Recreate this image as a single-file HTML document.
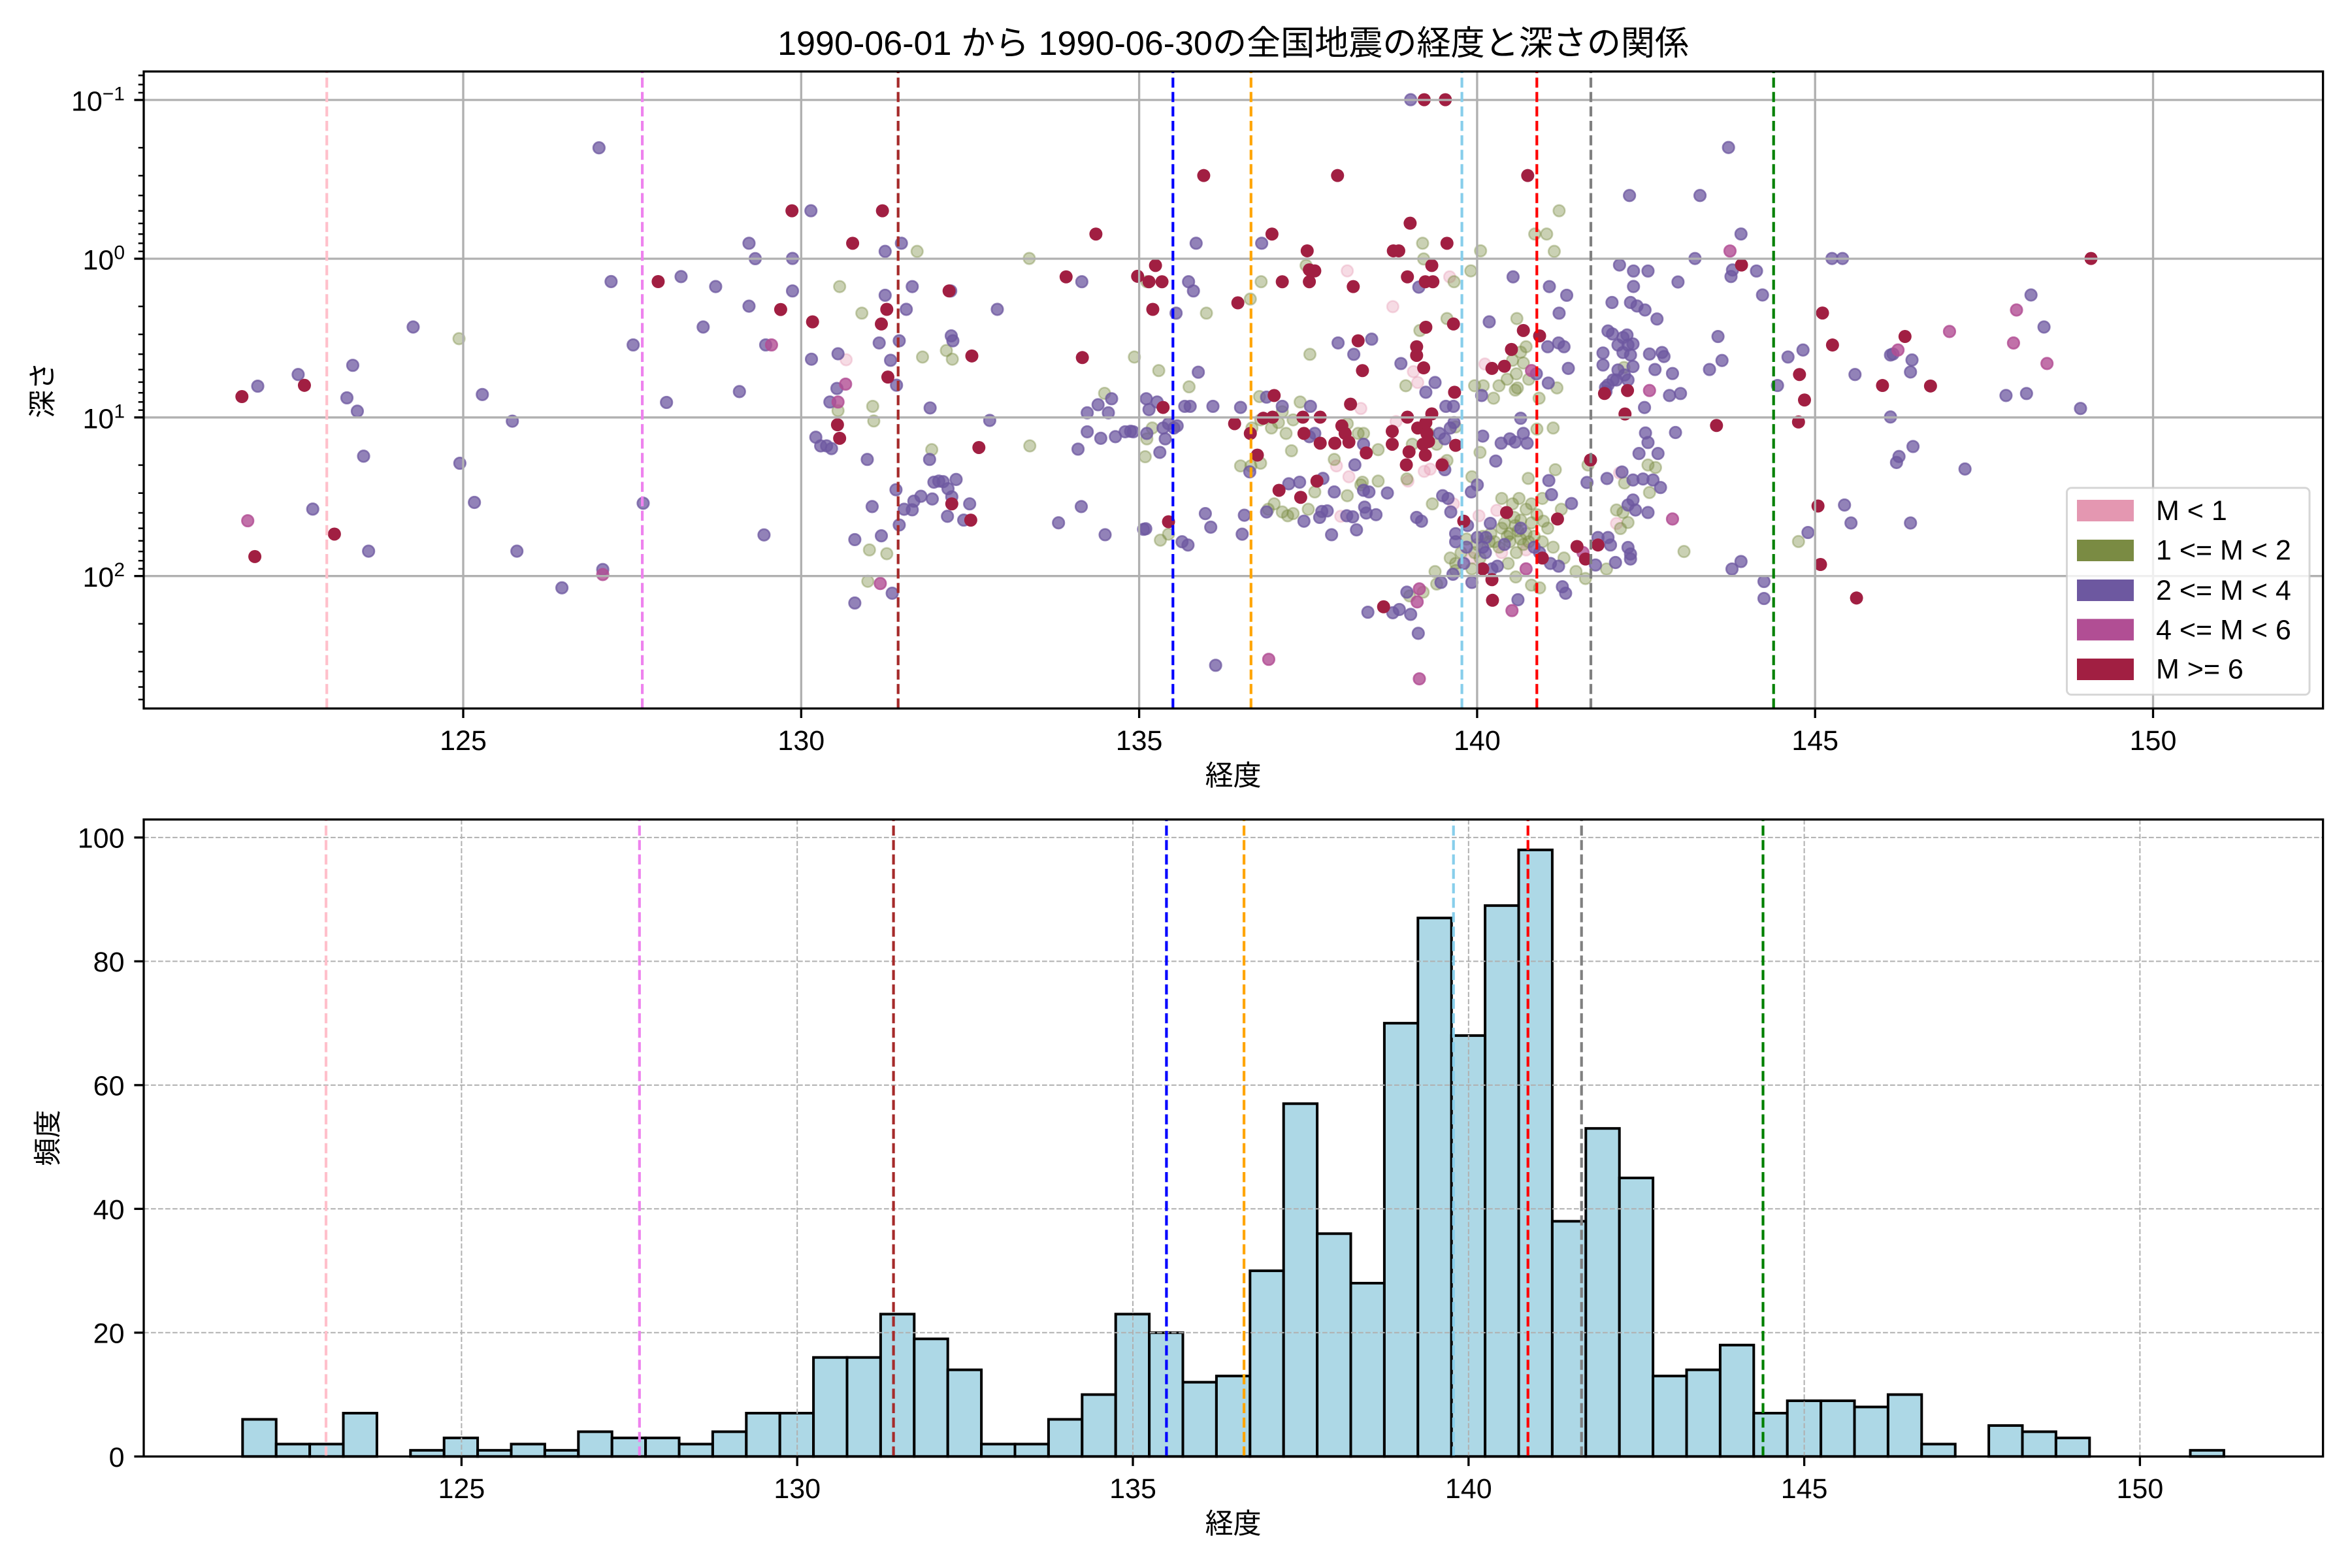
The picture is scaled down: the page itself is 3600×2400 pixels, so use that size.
<!DOCTYPE html>
<html><head><meta charset="utf-8">
<style>
html,body{margin:0;padding:0;background:#fff;}
svg{display:block;}
text{font-family:"Liberation Sans","Noto Sans CJK JP",sans-serif;fill:#000;}
.K{fill:#e497b1;fill-opacity:.35;stroke:#e497b1;stroke-opacity:.35}
.O{fill:#7a8b43;fill-opacity:.4;stroke:#7a8b43;stroke-opacity:.4}
.P{fill:#6d58a0;fill-opacity:.75;stroke:#6d58a0;stroke-opacity:.75}
.M{fill:#b14e94;fill-opacity:.8;stroke:#b14e94;stroke-opacity:.8}
.R{fill:#a11f42}
</style></head>
<body>
<svg width="3600" height="2400" viewBox="0 0 3600 2400" xmlns="http://www.w3.org/2000/svg">
<defs>
<clipPath id="c1"><rect x="220" y="109.4" width="3335.6" height="975"/></clipPath>
</defs>
<rect width="3600" height="2400" fill="#fff"/>

<text x="1887.6" y="84" font-size="52" text-anchor="middle" textLength="1395" lengthAdjust="spacingAndGlyphs">1990-06-01 から 1990-06-30の全国地震の経度と深さの関係</text>

<g clip-path="url(#c1)">
<g transform="translate(1150,0) scale(0.82925)" class="K" stroke-width="3.14">
<circle cx="175" cy="664" r="10.6"/><circle cx="1100" cy="500" r="10.6"/><circle cx="1289" cy="511" r="10.6"/><circle cx="1184" cy="566" r="10.6"/><circle cx="1222" cy="686" r="10.6"/><circle cx="1230" cy="706" r="10.6"/><circle cx="1354" cy="672" r="10.6"/><circle cx="1125" cy="754" r="10.6"/><circle cx="1190" cy="778" r="10.6"/><circle cx="1080" cy="860" r="10.6"/><circle cx="1103" cy="880" r="10.6"/><circle cx="1212" cy="888" r="10.6"/><circle cx="1242" cy="870" r="10.6"/><circle cx="1253" cy="866" r="10.6"/><circle cx="1277" cy="855" r="10.6"/><circle cx="1296" cy="930" r="10.6"/><circle cx="1088" cy="953" r="10.6"/><circle cx="1343" cy="952" r="10.6"/><circle cx="1376" cy="942" r="10.6"/><circle cx="1330" cy="1030" r="10.6"/><circle cx="1385" cy="1020" r="10.6"/><circle cx="1430" cy="1015" r="10.6"/>
</g>
<g transform="translate(2400,0) scale(0.76531)" class="K" stroke-width="3.4">
<circle cx="103" cy="946" r="11.5"/><circle cx="97" cy="1047" r="11.5"/>
</g>
<g transform="translate(200,100) scale(0.63776)" class="O" stroke-width="4.1">
<circle cx="788" cy="656" r="13.8"/>
</g>
<g transform="translate(1150,0) scale(0.82925)" class="O" stroke-width="3.14">
<circle cx="1491" cy="389" r="10.6"/><circle cx="306" cy="464" r="10.6"/><circle cx="1239" cy="449" r="10.6"/><circle cx="1446" cy="432" r="10.6"/><circle cx="1468" cy="432" r="10.6"/><circle cx="1482" cy="464" r="10.6"/><circle cx="513" cy="477" r="10.6"/><circle cx="1346" cy="463" r="10.6"/><circle cx="1241" cy="478" r="10.6"/><circle cx="730" cy="520" r="10.6"/><circle cx="941" cy="520" r="10.6"/><circle cx="1024" cy="490" r="10.6"/><circle cx="1297" cy="520" r="10.6"/><circle cx="1328" cy="500" r="10.6"/><circle cx="163" cy="529" r="10.6"/><circle cx="204" cy="578" r="10.6"/><circle cx="840" cy="578" r="10.6"/><circle cx="921" cy="552" r="10.6"/><circle cx="1234" cy="610" r="10.6"/><circle cx="1284" cy="588" r="10.6"/><circle cx="1413" cy="588" r="10.6"/><circle cx="360" cy="647" r="10.6"/><circle cx="371" cy="663" r="10.6"/><circle cx="1430" cy="640" r="10.6"/><circle cx="316" cy="659" r="10.6"/><circle cx="707" cy="659" r="10.6"/><circle cx="1031" cy="654" r="10.6"/><circle cx="752" cy="684" r="10.6"/><circle cx="1208" cy="712" r="10.6"/><circle cx="1351" cy="712" r="10.6"/><circle cx="1380" cy="712" r="10.6"/><circle cx="1412" cy="690" r="10.6"/><circle cx="1414" cy="716" r="10.6"/><circle cx="1335" cy="712" r="10.6"/><circle cx="1487" cy="716" r="10.6"/><circle cx="224" cy="750" r="10.6"/><circle cx="226" cy="777" r="10.6"/><circle cx="160" cy="758" r="10.6"/><circle cx="652" cy="726" r="10.6"/><circle cx="808" cy="714" r="10.6"/><circle cx="938" cy="732" r="10.6"/><circle cx="1013" cy="742" r="10.6"/><circle cx="1370" cy="735" r="10.6"/><circle cx="1410" cy="720" r="10.6"/><circle cx="1454" cy="735" r="10.6"/><circle cx="514" cy="823" r="10.6"/><circle cx="730" cy="810" r="10.6"/><circle cx="740" cy="790" r="10.6"/><circle cx="727" cy="843" r="10.6"/><circle cx="924" cy="790" r="10.6"/><circle cx="940" cy="775" r="10.6"/><circle cx="987" cy="800" r="10.6"/><circle cx="973" cy="780" r="10.6"/><circle cx="1100" cy="782" r="10.6"/><circle cx="1130" cy="800" r="10.6"/><circle cx="1157" cy="830" r="10.6"/><circle cx="1220" cy="820" r="10.6"/><circle cx="1265" cy="820" r="10.6"/><circle cx="1284" cy="850" r="10.6"/><circle cx="1300" cy="788" r="10.6"/><circle cx="1345" cy="835" r="10.6"/><circle cx="1450" cy="792" r="10.6"/><circle cx="1480" cy="790" r="10.6"/><circle cx="333" cy="830" r="10.6"/><circle cx="922" cy="860" r="10.6"/><circle cx="903" cy="860" r="10.6"/><circle cx="940" cy="855" r="10.6"/><circle cx="997" cy="832" r="10.6"/><circle cx="1076" cy="848" r="10.6"/><circle cx="1128" cy="890" r="10.6"/><circle cx="1157" cy="888" r="10.6"/><circle cx="1210" cy="884" r="10.6"/><circle cx="1330" cy="880" r="10.6"/><circle cx="1434" cy="883" r="10.6"/><circle cx="1484" cy="867" r="10.6"/><circle cx="1040" cy="908" r="10.6"/><circle cx="1100" cy="915" r="10.6"/><circle cx="1125" cy="895" r="10.6"/><circle cx="1257" cy="930" r="10.6"/><circle cx="1385" cy="920" r="10.6"/><circle cx="1405" cy="930" r="10.6"/><circle cx="1417" cy="920" r="10.6"/><circle cx="1440" cy="930" r="10.6"/><circle cx="1460" cy="920" r="10.6"/><circle cx="954" cy="940" r="10.6"/><circle cx="965" cy="930" r="10.6"/><circle cx="980" cy="945" r="10.6"/><circle cx="990" cy="952" r="10.6"/><circle cx="1000" cy="948" r="10.6"/><circle cx="1028" cy="940" r="10.6"/><circle cx="1390" cy="966" r="10.6"/><circle cx="1410" cy="970" r="10.6"/><circle cx="1420" cy="960" r="10.6"/><circle cx="1400" cy="985" r="10.6"/><circle cx="1430" cy="940" r="10.6"/><circle cx="1450" cy="950" r="10.6"/><circle cx="1462" cy="962" r="10.6"/><circle cx="1495" cy="940" r="10.6"/><circle cx="755" cy="997" r="10.6"/><circle cx="770" cy="986" r="10.6"/><circle cx="1365" cy="985" r="10.6"/><circle cx="1372" cy="1000" r="10.6"/><circle cx="1380" cy="1010" r="10.6"/><circle cx="1400" cy="1000" r="10.6"/><circle cx="1420" cy="995" r="10.6"/><circle cx="1430" cy="985" r="10.6"/><circle cx="1435" cy="1000" r="10.6"/><circle cx="1460" cy="1000" r="10.6"/><circle cx="1320" cy="995" r="10.6"/><circle cx="1335" cy="1020" r="10.6"/><circle cx="1345" cy="1030" r="10.6"/><circle cx="1362" cy="1000" r="10.6"/><circle cx="1412" cy="1020" r="10.6"/><circle cx="1397" cy="1040" r="10.6"/><circle cx="1300" cy="1040" r="10.6"/><circle cx="1290" cy="1030" r="10.6"/><circle cx="1500" cy="1030" r="10.6"/><circle cx="218" cy="1015" r="10.6"/><circle cx="250" cy="1022" r="10.6"/><circle cx="215" cy="1073" r="10.6"/><circle cx="1262" cy="1055" r="10.6"/><circle cx="1411" cy="1065" r="10.6"/><circle cx="1440" cy="1080" r="10.6"/><circle cx="1455" cy="1085" r="10.6"/><circle cx="1215" cy="1100" r="10.6"/><circle cx="1240" cy="1093" r="10.6"/><circle cx="1265" cy="1078" r="10.6"/><circle cx="1330" cy="1050" r="10.6"/><circle cx="1300" cy="1053" r="10.6"/>
<circle cx="1385" cy="975" r="10.6"/><circle cx="1395" cy="990" r="10.6"/><circle cx="1415" cy="980" r="10.6"/><circle cx="1425" cy="1005" r="10.6"/><circle cx="1445" cy="990" r="10.6"/><circle cx="1408" cy="955" r="10.6"/><circle cx="1440" cy="965" r="10.6"/><circle cx="1470" cy="975" r="10.6"/><circle cx="1480" cy="1010" r="10.6"/><circle cx="1350" cy="990" r="10.6"/><circle cx="1340" cy="1005" r="10.6"/><circle cx="1310" cy="1020" r="10.6"/><circle cx="1420" cy="650" r="10.6"/><circle cx="1425" cy="670" r="10.6"/><circle cx="1405" cy="665" r="10.6"/><circle cx="1435" cy="700" r="10.6"/><circle cx="1395" cy="700" r="10.6"/><circle cx="980" cy="760" r="10.6"/><circle cx="960" cy="790" r="10.6"/><circle cx="1000" cy="775" r="10.6"/><circle cx="1120" cy="800" r="10.6"/><circle cx="1250" cy="800" r="10.6"/>
</g>
<g transform="translate(2400,0) scale(0.76531)" class="O" stroke-width="3.4">
<circle cx="112" cy="735" r="11.5"/><circle cx="40" cy="930" r="11.5"/><circle cx="113" cy="966" r="11.5"/><circle cx="160" cy="930" r="11.5"/><circle cx="175" cy="935" r="11.5"/><circle cx="163" cy="985" r="11.5"/><circle cx="97" cy="1020" r="11.5"/><circle cx="110" cy="1025" r="11.5"/><circle cx="105" cy="1057" r="11.5"/><circle cx="120" cy="1045" r="11.5"/><circle cx="232" cy="1103" r="11.5"/><circle cx="461" cy="1083" r="11.5"/><circle cx="77" cy="1138" r="11.5"/><circle cx="16" cy="1143" r="11.5"/><circle cx="35" cy="1157" r="11.5"/>
</g>
<g transform="translate(200,100) scale(0.63776)" class="P" stroke-width="4.1">
<circle cx="1124" cy="198" r="13.8"/><circle cx="1484" cy="427" r="13.8"/><circle cx="1499" cy="464" r="13.8"/><circle cx="1153" cy="519" r="13.8"/><circle cx="1321" cy="507" r="13.8"/><circle cx="1404" cy="531" r="13.8"/><circle cx="1484" cy="578" r="13.8"/><circle cx="678" cy="628" r="13.8"/><circle cx="1374" cy="628" r="13.8"/><circle cx="1206" cy="671" r="13.8"/><circle cx="1524" cy="671" r="13.8"/><circle cx="533" cy="720" r="13.8"/><circle cx="402" cy="742" r="13.8"/><circle cx="305" cy="770" r="13.8"/><circle cx="519" cy="798" r="13.8"/><circle cx="544" cy="830" r="13.8"/><circle cx="844" cy="790" r="13.8"/><circle cx="1461" cy="783" r="13.8"/><circle cx="1286" cy="809" r="13.8"/><circle cx="916" cy="854" r="13.8"/><circle cx="559" cy="938" r="13.8"/><circle cx="790" cy="955" r="13.8"/><circle cx="825" cy="1049" r="13.8"/><circle cx="1230" cy="1051" r="13.8"/><circle cx="437" cy="1065" r="13.8"/><circle cx="571" cy="1166" r="13.8"/><circle cx="927" cy="1166" r="13.8"/><circle cx="1520" cy="1127" r="13.8"/><circle cx="1133" cy="1210" r="13.8"/><circle cx="1035" cy="1254" r="13.8"/>
</g>
<g transform="translate(1150,0) scale(0.82925)" class="P" stroke-width="3.14">
<circle cx="1217" cy="184" r="10.6"/><circle cx="110" cy="389" r="10.6"/><circle cx="277" cy="449" r="10.6"/><circle cx="247" cy="464" r="10.6"/><circle cx="821" cy="449" r="10.6"/><circle cx="942" cy="449" r="10.6"/><circle cx="76" cy="477" r="10.6"/><circle cx="610" cy="520" r="10.6"/><circle cx="807" cy="520" r="10.6"/><circle cx="816" cy="537" r="10.6"/><circle cx="1232" cy="530" r="10.6"/><circle cx="1406" cy="511" r="10.6"/><circle cx="1473" cy="529" r="10.6"/><circle cx="1505" cy="545" r="10.6"/><circle cx="76" cy="537" r="10.6"/><circle cx="247" cy="545" r="10.6"/><circle cx="297" cy="529" r="10.6"/><circle cx="368" cy="537" r="10.6"/><circle cx="286" cy="571" r="10.6"/><circle cx="454" cy="571" r="10.6"/><circle cx="784" cy="578" r="10.6"/><circle cx="1491" cy="578" r="10.6"/><circle cx="1362" cy="594" r="10.6"/><circle cx="236" cy="633" r="10.6"/><circle cx="273" cy="629" r="10.6"/><circle cx="369" cy="620" r="10.6"/><circle cx="372" cy="629" r="10.6"/><circle cx="1083" cy="633" r="10.6"/><circle cx="1145" cy="626" r="10.6"/><circle cx="1470" cy="640" r="10.6"/><circle cx="1490" cy="633" r="10.6"/><circle cx="1500" cy="640" r="10.6"/><circle cx="111" cy="663" r="10.6"/><circle cx="160" cy="653" r="10.6"/><circle cx="257" cy="665" r="10.6"/><circle cx="1112" cy="654" r="10.6"/><circle cx="1199" cy="671" r="10.6"/><circle cx="1449" cy="690" r="10.6"/><circle cx="1471" cy="707" r="10.6"/><circle cx="1508" cy="680" r="10.6"/><circle cx="825" cy="687" r="10.6"/><circle cx="158" cy="717" r="10.6"/><circle cx="268" cy="711" r="10.6"/><circle cx="145" cy="742" r="10.6"/><circle cx="330" cy="753" r="10.6"/><circle cx="440" cy="776" r="10.6"/><circle cx="665" cy="736" r="10.6"/><circle cx="640" cy="747" r="10.6"/><circle cx="620" cy="762" r="10.6"/><circle cx="659" cy="762" r="10.6"/><circle cx="729" cy="736" r="10.6"/><circle cx="749" cy="742" r="10.6"/><circle cx="734" cy="756" r="10.6"/><circle cx="800" cy="750" r="10.6"/><circle cx="810" cy="750" r="10.6"/><circle cx="852" cy="750" r="10.6"/><circle cx="903" cy="752" r="10.6"/><circle cx="951" cy="733" r="10.6"/><circle cx="980" cy="750" r="10.6"/><circle cx="1032" cy="750" r="10.6"/><circle cx="1282" cy="750" r="10.6"/><circle cx="1296" cy="750" r="10.6"/><circle cx="1262" cy="706" r="10.6"/><circle cx="1245" cy="724" r="10.6"/><circle cx="1348" cy="730" r="10.6"/><circle cx="119" cy="807" r="10.6"/><circle cx="128" cy="823" r="10.6"/><circle cx="139" cy="823" r="10.6"/><circle cx="148" cy="828" r="10.6"/><circle cx="603" cy="829" r="10.6"/><circle cx="620" cy="797" r="10.6"/><circle cx="645" cy="809" r="10.6"/><circle cx="672" cy="806" r="10.6"/><circle cx="690" cy="797" r="10.6"/><circle cx="700" cy="796" r="10.6"/><circle cx="705" cy="797" r="10.6"/><circle cx="730" cy="800" r="10.6"/><circle cx="760" cy="790" r="10.6"/><circle cx="770" cy="782" r="10.6"/><circle cx="780" cy="790" r="10.6"/><circle cx="786" cy="786" r="10.6"/><circle cx="764" cy="810" r="10.6"/><circle cx="754" cy="835" r="10.6"/><circle cx="1030" cy="806" r="10.6"/><circle cx="1040" cy="800" r="10.6"/><circle cx="1130" cy="820" r="10.6"/><circle cx="1270" cy="800" r="10.6"/><circle cx="1280" cy="810" r="10.6"/><circle cx="1290" cy="790" r="10.6"/><circle cx="1297" cy="780" r="10.6"/><circle cx="1350" cy="805" r="10.6"/><circle cx="1374" cy="851" r="10.6"/><circle cx="1384" cy="818" r="10.6"/><circle cx="1400" cy="810" r="10.6"/><circle cx="1410" cy="816" r="10.6"/><circle cx="1420" cy="772" r="10.6"/><circle cx="1425" cy="800" r="10.6"/><circle cx="1432" cy="818" r="10.6"/><circle cx="214" cy="848" r="10.6"/><circle cx="329" cy="848" r="10.6"/><circle cx="920" cy="871" r="10.6"/><circle cx="1114" cy="858" r="10.6"/><circle cx="1280" cy="867" r="10.6"/><circle cx="1340" cy="895" r="10.6"/><circle cx="1472" cy="887" r="10.6"/><circle cx="337" cy="890" r="10.6"/><circle cx="346" cy="888" r="10.6"/><circle cx="354" cy="889" r="10.6"/><circle cx="378" cy="885" r="10.6"/><circle cx="363" cy="902" r="10.6"/><circle cx="267" cy="904" r="10.6"/><circle cx="313" cy="916" r="10.6"/><circle cx="300" cy="925" r="10.6"/><circle cx="282" cy="940" r="10.6"/><circle cx="297" cy="941" r="10.6"/><circle cx="334" cy="921" r="10.6"/><circle cx="370" cy="917" r="10.6"/><circle cx="403" cy="930" r="10.6"/><circle cx="362" cy="953" r="10.6"/><circle cx="392" cy="960" r="10.6"/><circle cx="223" cy="935" r="10.6"/><circle cx="609" cy="935" r="10.6"/><circle cx="567" cy="965" r="10.6"/><circle cx="992" cy="893" r="10.6"/><circle cx="1012" cy="890" r="10.6"/><circle cx="1055" cy="883" r="10.6"/><circle cx="1076" cy="908" r="10.6"/><circle cx="1130" cy="905" r="10.6"/><circle cx="1140" cy="908" r="10.6"/><circle cx="1174" cy="910" r="10.6"/><circle cx="1276" cy="915" r="10.6"/><circle cx="1286" cy="920" r="10.6"/><circle cx="1291" cy="945" r="10.6"/><circle cx="1329" cy="908" r="10.6"/><circle cx="1477" cy="913" r="10.6"/><circle cx="951" cy="945" r="10.6"/><circle cx="1020" cy="962" r="10.6"/><circle cx="1053" cy="944" r="10.6"/><circle cx="1063" cy="943" r="10.6"/><circle cx="1049" cy="955" r="10.6"/><circle cx="1099" cy="952" r="10.6"/><circle cx="1110" cy="954" r="10.6"/><circle cx="1132" cy="936" r="10.6"/><circle cx="1135" cy="947" r="10.6"/><circle cx="1153" cy="950" r="10.6"/><circle cx="1117" cy="978" r="10.6"/><circle cx="1228" cy="955" r="10.6"/><circle cx="1237" cy="962" r="10.6"/><circle cx="1322" cy="970" r="10.6"/><circle cx="1364" cy="966" r="10.6"/><circle cx="838" cy="948" r="10.6"/><circle cx="848" cy="973" r="10.6"/><circle cx="910" cy="951" r="10.6"/><circle cx="906" cy="986" r="10.6"/><circle cx="724" cy="977" r="10.6"/><circle cx="728" cy="976" r="10.6"/><circle cx="795" cy="1000" r="10.6"/><circle cx="806" cy="1006" r="10.6"/><circle cx="653" cy="987" r="10.6"/><circle cx="1071" cy="987" r="10.6"/><circle cx="1300" cy="985" r="10.6"/><circle cx="1340" cy="992" r="10.6"/><circle cx="1356" cy="992" r="10.6"/><circle cx="1445" cy="1010" r="10.6"/><circle cx="1300" cy="1000" r="10.6"/><circle cx="1350" cy="1010" r="10.6"/><circle cx="1355" cy="1020" r="10.6"/><circle cx="1377" cy="1045" r="10.6"/><circle cx="1367" cy="1050" r="10.6"/><circle cx="1315" cy="1040" r="10.6"/><circle cx="1475" cy="1040" r="10.6"/><circle cx="1490" cy="1045" r="10.6"/><circle cx="191" cy="996" r="10.6"/><circle cx="240" cy="989" r="10.6"/><circle cx="273" cy="969" r="10.6"/><circle cx="260" cy="1095" r="10.6"/><circle cx="191" cy="1113" r="10.6"/><circle cx="1295" cy="1060" r="10.6"/><circle cx="1330" cy="1075" r="10.6"/><circle cx="1497" cy="1083" r="10.6"/><circle cx="1503" cy="1095" r="10.6"/><circle cx="1273" cy="1075" r="10.6"/><circle cx="1210" cy="1093" r="10.6"/><circle cx="1138" cy="1130" r="10.6"/><circle cx="1184" cy="1131" r="10.6"/><circle cx="1196" cy="1125" r="10.6"/><circle cx="1217" cy="1134" r="10.6"/><circle cx="1415" cy="1107" r="10.6"/><circle cx="1231" cy="1169" r="10.6"/><circle cx="857" cy="1228" r="10.6"/>
<circle cx="1390" cy="1005" r="10.6"/><circle cx="1420" cy="975" r="10.6"/><circle cx="1320" cy="1010" r="10.6"/><circle cx="1455" cy="1020" r="10.6"/>
</g>
<g transform="translate(2400,0) scale(0.76531)" class="P" stroke-width="3.4">
<circle cx="321" cy="295" r="11.5"/><circle cx="123" cy="391" r="11.5"/><circle cx="264" cy="391" r="11.5"/><circle cx="346" cy="468" r="11.5"/><circle cx="329" cy="540" r="11.5"/><circle cx="326" cy="553" r="11.5"/><circle cx="377" cy="542" r="11.5"/><circle cx="254" cy="517" r="11.5"/><circle cx="528" cy="517" r="11.5"/><circle cx="549" cy="517" r="11.5"/><circle cx="103" cy="530" r="11.5"/><circle cx="131" cy="542" r="11.5"/><circle cx="160" cy="542" r="11.5"/><circle cx="220" cy="564" r="11.5"/><circle cx="131" cy="573" r="11.5"/><circle cx="389" cy="590" r="11.5"/><circle cx="926" cy="590" r="11.5"/><circle cx="88" cy="605" r="11.5"/><circle cx="125" cy="605" r="11.5"/><circle cx="138" cy="612" r="11.5"/><circle cx="154" cy="620" r="11.5"/><circle cx="178" cy="638" r="11.5"/><circle cx="80" cy="662" r="11.5"/><circle cx="89" cy="668" r="11.5"/><circle cx="110" cy="675" r="11.5"/><circle cx="118" cy="670" r="11.5"/><circle cx="100" cy="690" r="11.5"/><circle cx="120" cy="690" r="11.5"/><circle cx="130" cy="688" r="11.5"/><circle cx="110" cy="705" r="11.5"/><circle cx="125" cy="710" r="11.5"/><circle cx="300" cy="673" r="11.5"/><circle cx="952" cy="654" r="11.5"/><circle cx="470" cy="700" r="11.5"/><circle cx="440" cy="714" r="11.5"/><circle cx="163" cy="708" r="11.5"/><circle cx="188" cy="705" r="11.5"/><circle cx="192" cy="713" r="11.5"/><circle cx="645" cy="710" r="11.5"/><circle cx="650" cy="708" r="11.5"/><circle cx="688" cy="720" r="11.5"/><circle cx="308" cy="721" r="11.5"/><circle cx="283" cy="739" r="11.5"/><circle cx="70" cy="706" r="11.5"/><circle cx="70" cy="730" r="11.5"/><circle cx="130" cy="733" r="11.5"/><circle cx="100" cy="740" r="11.5"/><circle cx="90" cy="760" r="11.5"/><circle cx="80" cy="770" r="11.5"/><circle cx="75" cy="775" r="11.5"/><circle cx="120" cy="760" r="11.5"/><circle cx="97" cy="760" r="11.5"/><circle cx="76" cy="783" r="11.5"/><circle cx="113" cy="750" r="11.5"/><circle cx="174" cy="739" r="11.5"/><circle cx="209" cy="747" r="11.5"/><circle cx="574" cy="749" r="11.5"/><circle cx="685" cy="744" r="11.5"/><circle cx="419" cy="771" r="11.5"/><circle cx="203" cy="791" r="11.5"/><circle cx="225" cy="787" r="11.5"/><circle cx="876" cy="791" r="11.5"/><circle cx="917" cy="787" r="11.5"/><circle cx="1025" cy="817" r="11.5"/><circle cx="153" cy="815" r="11.5"/><circle cx="645" cy="834" r="11.5"/><circle cx="155" cy="866" r="11.5"/><circle cx="160" cy="885" r="11.5"/><circle cx="215" cy="865" r="11.5"/><circle cx="142" cy="907" r="11.5"/><circle cx="180" cy="907" r="11.5"/><circle cx="690" cy="893" r="11.5"/><circle cx="662" cy="913" r="11.5"/><circle cx="657" cy="925" r="11.5"/><circle cx="794" cy="938" r="11.5"/><circle cx="78" cy="957" r="11.5"/><circle cx="108" cy="944" r="11.5"/><circle cx="130" cy="960" r="11.5"/><circle cx="150" cy="958" r="11.5"/><circle cx="170" cy="960" r="11.5"/><circle cx="185" cy="975" r="11.5"/><circle cx="38" cy="965" r="11.5"/><circle cx="130" cy="1000" r="11.5"/><circle cx="120" cy="1010" r="11.5"/><circle cx="135" cy="1020" r="11.5"/><circle cx="160" cy="1025" r="11.5"/><circle cx="7" cy="1007" r="11.5"/><circle cx="553" cy="1010" r="11.5"/><circle cx="566" cy="1046" r="11.5"/><circle cx="685" cy="1046" r="11.5"/><circle cx="480" cy="1065" r="11.5"/><circle cx="60" cy="1075" r="11.5"/><circle cx="80" cy="1075" r="11.5"/><circle cx="85" cy="1090" r="11.5"/><circle cx="120" cy="1095" r="11.5"/><circle cx="125" cy="1108" r="11.5"/><circle cx="125" cy="1118" r="11.5"/><circle cx="95" cy="1125" r="11.5"/><circle cx="55" cy="1130" r="11.5"/><circle cx="346" cy="1123" r="11.5"/><circle cx="328" cy="1138" r="11.5"/><circle cx="392" cy="1163" r="11.5"/><circle cx="392" cy="1197" r="11.5"/>
</g>
<g transform="translate(200,100) scale(0.63776)" class="M" stroke-width="4.1">
<circle cx="1538" cy="671" r="13.8"/><circle cx="281" cy="1093" r="13.8"/><circle cx="1133" cy="1222" r="13.8"/>
</g>
<g transform="translate(1150,0) scale(0.82925)" class="M" stroke-width="3.14">
<circle cx="174" cy="709" r="10.6"/><circle cx="160" cy="742" r="10.6"/><circle cx="1440" cy="684" r="10.6"/><circle cx="1430" cy="1050" r="10.6"/><circle cx="238" cy="1077" r="10.6"/><circle cx="1233" cy="1087" r="10.6"/><circle cx="1229" cy="1111" r="10.6"/><circle cx="1404" cy="1127" r="10.6"/><circle cx="1233" cy="1253" r="10.6"/><circle cx="955" cy="1217" r="10.6"/>
</g>
<g transform="translate(2400,0) scale(0.76531)" class="M" stroke-width="3.4">
<circle cx="324" cy="502" r="11.5"/><circle cx="897" cy="620" r="11.5"/><circle cx="763" cy="663" r="11.5"/><circle cx="891" cy="686" r="11.5"/><circle cx="660" cy="700" r="11.5"/><circle cx="163" cy="781" r="11.5"/><circle cx="209" cy="1038" r="11.5"/><circle cx="30" cy="1105" r="11.5"/><circle cx="958" cy="727" r="11.5"/>
</g>
<g transform="translate(200,100) scale(0.63776)" class="R">
<circle cx="1266" cy="519" r="15.7"/><circle cx="1560" cy="586" r="15.7"/><circle cx="417" cy="768" r="15.7"/><circle cx="267" cy="795" r="15.7"/><circle cx="489" cy="1125" r="15.7"/><circle cx="298" cy="1179" r="15.7"/>
</g>
<g transform="translate(1150,0) scale(0.82925)" class="R">
<circle cx="1242" cy="184" r="12.06"/><circle cx="1281" cy="184" r="12.06"/><circle cx="75" cy="389" r="12.06"/><circle cx="242" cy="389" r="12.06"/><circle cx="835" cy="324" r="12.06"/><circle cx="1082" cy="324" r="12.06"/><circle cx="1433" cy="324" r="12.06"/><circle cx="636" cy="432" r="12.06"/><circle cx="961" cy="432" r="12.06"/><circle cx="1216" cy="412" r="12.06"/><circle cx="187" cy="449" r="12.06"/><circle cx="1026" cy="463" r="12.06"/><circle cx="1185" cy="463" r="12.06"/><circle cx="1195" cy="463" r="12.06"/><circle cx="1284" cy="449" r="12.06"/><circle cx="581" cy="511" r="12.06"/><circle cx="713" cy="510" r="12.06"/><circle cx="746" cy="490" r="12.06"/><circle cx="734" cy="520" r="12.06"/><circle cx="758" cy="520" r="12.06"/><circle cx="980" cy="520" r="12.06"/><circle cx="1030" cy="520" r="12.06"/><circle cx="1030" cy="498" r="12.06"/><circle cx="1040" cy="500" r="12.06"/><circle cx="1111" cy="529" r="12.06"/><circle cx="1211" cy="511" r="12.06"/><circle cx="1256" cy="490" r="12.06"/><circle cx="1258" cy="520" r="12.06"/><circle cx="1244" cy="520" r="12.06"/><circle cx="365" cy="537" r="12.06"/><circle cx="250" cy="571" r="12.06"/><circle cx="741" cy="571" r="12.06"/><circle cx="898" cy="559" r="12.06"/><circle cx="113" cy="594" r="12.06"/><circle cx="240" cy="598" r="12.06"/><circle cx="1245" cy="604" r="12.06"/><circle cx="1296" cy="598" r="12.06"/><circle cx="1425" cy="610" r="12.06"/><circle cx="1455" cy="620" r="12.06"/><circle cx="1120" cy="629" r="12.06"/><circle cx="1228" cy="640" r="12.06"/><circle cx="1228" cy="656" r="12.06"/><circle cx="1403" cy="645" r="12.06"/><circle cx="407" cy="657" r="12.06"/><circle cx="611" cy="660" r="12.06"/><circle cx="1128" cy="684" r="12.06"/><circle cx="1241" cy="679" r="12.06"/><circle cx="1367" cy="680" r="12.06"/><circle cx="1390" cy="676" r="12.06"/><circle cx="252" cy="696" r="12.06"/><circle cx="760" cy="752" r="12.06"/><circle cx="965" cy="730" r="12.06"/><circle cx="1106" cy="746" r="12.06"/><circle cx="1256" cy="764" r="12.06"/><circle cx="1298" cy="724" r="12.06"/><circle cx="159" cy="784" r="12.06"/><circle cx="163" cy="809" r="12.06"/><circle cx="420" cy="826" r="12.06"/><circle cx="892" cy="782" r="12.06"/><circle cx="921" cy="800" r="12.06"/><circle cx="945" cy="772" r="12.06"/><circle cx="962" cy="770" r="12.06"/><circle cx="1018" cy="770" r="12.06"/><circle cx="1020" cy="800" r="12.06"/><circle cx="1050" cy="770" r="12.06"/><circle cx="1050" cy="818" r="12.06"/><circle cx="1077" cy="818" r="12.06"/><circle cx="1090" cy="786" r="12.06"/><circle cx="1096" cy="800" r="12.06"/><circle cx="1103" cy="816" r="12.06"/><circle cx="1135" cy="836" r="12.06"/><circle cx="1183" cy="796" r="12.06"/><circle cx="1183" cy="820" r="12.06"/><circle cx="1209" cy="858" r="12.06"/><circle cx="1214" cy="834" r="12.06"/><circle cx="1230" cy="790" r="12.06"/><circle cx="1245" cy="780" r="12.06"/><circle cx="1247" cy="800" r="12.06"/><circle cx="1244" cy="840" r="12.06"/><circle cx="1240" cy="820" r="12.06"/><circle cx="1250" cy="815" r="12.06"/><circle cx="1300" cy="822" r="12.06"/><circle cx="1275" cy="858" r="12.06"/><circle cx="1211" cy="770" r="12.06"/><circle cx="934" cy="840" r="12.06"/><circle cx="370" cy="930" r="12.06"/><circle cx="405" cy="960" r="12.06"/><circle cx="974" cy="905" r="12.06"/><circle cx="1044" cy="888" r="12.06"/><circle cx="1014" cy="918" r="12.06"/><circle cx="770" cy="963" r="12.06"/><circle cx="1315" cy="962" r="12.06"/><circle cx="1394" cy="946" r="12.06"/><circle cx="1488" cy="958" r="12.06"/><circle cx="1350" cy="1050" r="12.06"/><circle cx="1460" cy="1030" r="12.06"/><circle cx="1367" cy="1070" r="12.06"/><circle cx="1167" cy="1120" r="12.06"/><circle cx="1368" cy="1108" r="12.06"/>
</g>
<g transform="translate(2400,0) scale(0.76531)" class="R">
<circle cx="347" cy="530" r="13.07"/><circle cx="1046" cy="517" r="13.07"/><circle cx="509" cy="626" r="13.07"/><circle cx="674" cy="673" r="13.07"/><circle cx="529" cy="690" r="13.07"/><circle cx="463" cy="749" r="13.07"/><circle cx="629" cy="771" r="13.07"/><circle cx="725" cy="772" r="13.07"/><circle cx="119" cy="781" r="13.07"/><circle cx="73" cy="787" r="13.07"/><circle cx="114" cy="828" r="13.07"/><circle cx="473" cy="800" r="13.07"/><circle cx="461" cy="844" r="13.07"/><circle cx="297" cy="851" r="13.07"/><circle cx="45" cy="920" r="13.07"/><circle cx="500" cy="1012" r="13.07"/><circle cx="60" cy="1090" r="13.07"/><circle cx="18" cy="1093" r="13.07"/><circle cx="35" cy="1118" r="13.07"/><circle cx="505" cy="1129" r="13.07"/><circle cx="577" cy="1196" r="13.07"/>
</g>
</g>

<g stroke="#b0b0b0" stroke-width="3.33">
<line x1="220" y1="153" x2="3555.6" y2="153"/>
<line x1="220" y1="396" x2="3555.6" y2="396"/>
<line x1="220" y1="638.9" x2="3555.6" y2="638.9"/>
<line x1="220" y1="881.7" x2="3555.6" y2="881.7"/>
<line x1="709" y1="109.4" x2="709" y2="1084.4"/>
<line x1="1226.3" y1="109.4" x2="1226.3" y2="1084.4"/>
<line x1="1743.6" y1="109.4" x2="1743.6" y2="1084.4"/>
<line x1="2260.9" y1="109.4" x2="2260.9" y2="1084.4"/>
<line x1="2778.2" y1="109.4" x2="2778.2" y2="1084.4"/>
<line x1="3295.5" y1="109.4" x2="3295.5" y2="1084.4"/>
</g>
<g stroke-width="4.17" stroke-dasharray="15.4 6.7">
<line x1="500.2" y1="1084.4" x2="500.2" y2="109.4" stroke="#ffc0cb"/>
<line x1="983.1" y1="1084.4" x2="983.1" y2="109.4" stroke="#ee82ee"/>
<line x1="1374.7" y1="1084.4" x2="1374.7" y2="109.4" stroke="#a52a2a"/>
<line x1="1795.3" y1="1084.4" x2="1795.3" y2="109.4" stroke="#0000ff"/>
<line x1="1914.8" y1="1084.4" x2="1914.8" y2="109.4" stroke="#ffa500"/>
<line x1="2237.6" y1="1084.4" x2="2237.6" y2="109.4" stroke="#87ceeb"/>
<line x1="2352.3" y1="1084.4" x2="2352.3" y2="109.4" stroke="#ff0000"/>
<line x1="2435.0" y1="1084.4" x2="2435.0" y2="109.4" stroke="#808080"/>
<line x1="2714.7" y1="1084.4" x2="2714.7" y2="109.4" stroke="#008000"/>
</g>

<rect x="3163.5" y="746.7" width="371.5" height="316.6" rx="7" ry="7" fill="#fff" fill-opacity="0.8" stroke="#cccccc" stroke-opacity="0.8" stroke-width="3"/>
<rect x="3179" y="765" width="87" height="33" fill="#e497b1"/>
<rect x="3179" y="826" width="87" height="33" fill="#7a8b43"/>
<rect x="3179" y="887" width="87" height="33" fill="#6d58a0"/>
<rect x="3179" y="947.3" width="87" height="33" fill="#b14e94"/>
<rect x="3179" y="1008" width="87" height="33" fill="#a11f42"/>
<g font-size="43">
<text x="3300" y="796">M &lt; 1</text>
<text x="3300" y="856.7">1 &lt;= M &lt; 2</text>
<text x="3300" y="918">2 &lt;= M &lt; 4</text>
<text x="3300" y="978.3">4 &lt;= M &lt; 6</text>
<text x="3300" y="1038.5">M &gt;= 6</text>
</g>

<rect x="220" y="109.4" width="3335.6" height="975" fill="none" stroke="#000" stroke-width="3.33"/>
<g stroke="#000" stroke-width="3.33">
<line x1="709" y1="1084.4" x2="709" y2="1099"/>
<line x1="1226.3" y1="1084.4" x2="1226.3" y2="1099"/>
<line x1="1743.6" y1="1084.4" x2="1743.6" y2="1099"/>
<line x1="2260.9" y1="1084.4" x2="2260.9" y2="1099"/>
<line x1="2778.2" y1="1084.4" x2="2778.2" y2="1099"/>
<line x1="3295.5" y1="1084.4" x2="3295.5" y2="1099"/>
<line x1="205.4" y1="153" x2="220" y2="153"/>
<line x1="205.4" y1="396" x2="220" y2="396"/>
<line x1="205.4" y1="638.9" x2="220" y2="638.9"/>
<line x1="205.4" y1="881.7" x2="220" y2="881.7"/>
</g>
<g stroke="#000" stroke-width="2.5">
<line x1="211.7" y1="115.4" x2="220" y2="115.4"/><line x1="211.7" y1="129.4" x2="220" y2="129.4"/><line x1="211.7" y1="141.9" x2="220" y2="141.9"/>
<line x1="211.7" y1="226.1" x2="220" y2="226.1"/><line x1="211.7" y1="268.9" x2="220" y2="268.9"/><line x1="211.7" y1="299.2" x2="220" y2="299.2"/><line x1="211.7" y1="322.8" x2="220" y2="322.8"/><line x1="211.7" y1="342" x2="220" y2="342"/><line x1="211.7" y1="358.3" x2="220" y2="358.3"/><line x1="211.7" y1="372.4" x2="220" y2="372.4"/><line x1="211.7" y1="384.8" x2="220" y2="384.8"/>
<line x1="211.7" y1="469" x2="220" y2="469"/><line x1="211.7" y1="511.8" x2="220" y2="511.8"/><line x1="211.7" y1="542.1" x2="220" y2="542.1"/><line x1="211.7" y1="565.7" x2="220" y2="565.7"/><line x1="211.7" y1="584.9" x2="220" y2="584.9"/><line x1="211.7" y1="601.2" x2="220" y2="601.2"/><line x1="211.7" y1="615.3" x2="220" y2="615.3"/><line x1="211.7" y1="627.7" x2="220" y2="627.7"/>
<line x1="211.7" y1="711.9" x2="220" y2="711.9"/><line x1="211.7" y1="754.7" x2="220" y2="754.7"/><line x1="211.7" y1="785" x2="220" y2="785"/><line x1="211.7" y1="808.6" x2="220" y2="808.6"/><line x1="211.7" y1="827.8" x2="220" y2="827.8"/><line x1="211.7" y1="844.1" x2="220" y2="844.1"/><line x1="211.7" y1="858.2" x2="220" y2="858.2"/><line x1="211.7" y1="870.6" x2="220" y2="870.6"/>
<line x1="211.7" y1="954.8" x2="220" y2="954.8"/><line x1="211.7" y1="997.6" x2="220" y2="997.6"/><line x1="211.7" y1="1027.9" x2="220" y2="1027.9"/><line x1="211.7" y1="1051.5" x2="220" y2="1051.5"/><line x1="211.7" y1="1070.7" x2="220" y2="1070.7"/>
</g>
<g font-size="43" text-anchor="middle">
<text x="709" y="1148">125</text>
<text x="1226.3" y="1148">130</text>
<text x="1743.6" y="1148">135</text>
<text x="2260.9" y="1148">140</text>
<text x="2778.2" y="1148">145</text>
<text x="3295.5" y="1148">150</text>
</g>
<g font-size="43" text-anchor="end">
<text x="191" y="169.5">10<tspan dy="-16" font-size="30">−1</tspan></text>
<text x="191" y="412.5">10<tspan dy="-16" font-size="30">0</tspan></text>
<text x="191" y="655.4">10<tspan dy="-16" font-size="30">1</tspan></text>
<text x="191" y="898.2">10<tspan dy="-16" font-size="30">2</tspan></text>
</g>
<text x="1887.6" y="1202" font-size="43" text-anchor="middle">経度</text>
<text transform="translate(80,597) rotate(-90)" font-size="43" text-anchor="middle">深さ</text>

<g fill="#add8e6" stroke="#000" stroke-width="4">
<rect x="371.3" y="2172.46" width="51.4" height="56.84"/>
<rect x="422.7" y="2210.35" width="51.4" height="18.95"/>
<rect x="474.1" y="2210.35" width="51.4" height="18.95"/>
<rect x="525.5" y="2162.98" width="51.4" height="66.32"/>
<rect x="628.3" y="2219.83" width="51.4" height="9.47"/>
<rect x="679.7" y="2200.88" width="51.4" height="28.42"/>
<rect x="731.1" y="2219.83" width="51.4" height="9.47"/>
<rect x="782.5" y="2210.35" width="51.4" height="18.95"/>
<rect x="833.9" y="2219.83" width="51.4" height="9.47"/>
<rect x="885.3" y="2191.4" width="51.4" height="37.9"/>
<rect x="936.7" y="2200.88" width="51.4" height="28.42"/>
<rect x="988.1" y="2200.88" width="51.4" height="28.42"/>
<rect x="1039.5" y="2210.35" width="51.4" height="18.95"/>
<rect x="1090.9" y="2191.4" width="51.4" height="37.9"/>
<rect x="1142.3" y="2162.98" width="51.4" height="66.32"/>
<rect x="1193.7" y="2162.98" width="51.4" height="66.32"/>
<rect x="1245.1" y="2077.72" width="51.4" height="151.58"/>
<rect x="1296.5" y="2077.72" width="51.4" height="151.58"/>
<rect x="1347.9" y="2011.4" width="51.4" height="217.9"/>
<rect x="1399.3" y="2049.3" width="51.4" height="180"/>
<rect x="1450.7" y="2096.66" width="51.4" height="132.64"/>
<rect x="1502.1" y="2210.35" width="51.4" height="18.95"/>
<rect x="1553.5" y="2210.35" width="51.4" height="18.95"/>
<rect x="1604.9" y="2172.46" width="51.4" height="56.84"/>
<rect x="1656.3" y="2134.56" width="51.4" height="94.74"/>
<rect x="1707.7" y="2011.4" width="51.4" height="217.9"/>
<rect x="1759.1" y="2039.82" width="51.4" height="189.48"/>
<rect x="1810.5" y="2115.61" width="51.4" height="113.69"/>
<rect x="1861.9" y="2106.14" width="51.4" height="123.16"/>
<rect x="1913.3" y="1945.08" width="51.4" height="284.22"/>
<rect x="1964.7" y="1689.28" width="51.4" height="540.02"/>
<rect x="2016.1" y="1888.24" width="51.4" height="341.06"/>
<rect x="2067.5" y="1964.03" width="51.4" height="265.27"/>
<rect x="2118.9" y="1566.12" width="51.4" height="663.18"/>
<rect x="2170.3" y="1405.06" width="51.4" height="824.24"/>
<rect x="2221.7" y="1585.07" width="51.4" height="644.23"/>
<rect x="2273.1" y="1386.11" width="51.4" height="843.19"/>
<rect x="2324.5" y="1300.85" width="51.4" height="928.45"/>
<rect x="2375.9" y="1869.29" width="51.4" height="360.01"/>
<rect x="2427.3" y="1727.18" width="51.4" height="502.12"/>
<rect x="2478.7" y="1802.97" width="51.4" height="426.33"/>
<rect x="2530.1" y="2106.14" width="51.4" height="123.16"/>
<rect x="2581.5" y="2096.66" width="51.4" height="132.64"/>
<rect x="2632.9" y="2058.77" width="51.4" height="170.53"/>
<rect x="2684.3" y="2162.98" width="51.4" height="66.32"/>
<rect x="2735.7" y="2144.03" width="51.4" height="85.27"/>
<rect x="2787.1" y="2144.03" width="51.4" height="85.27"/>
<rect x="2838.5" y="2153.51" width="51.4" height="75.79"/>
<rect x="2889.9" y="2134.56" width="51.4" height="94.74"/>
<rect x="2941.3" y="2210.35" width="51.4" height="18.95"/>
<rect x="3044.1" y="2181.93" width="51.4" height="47.37"/>
<rect x="3095.5" y="2191.4" width="51.4" height="37.9"/>
<rect x="3146.9" y="2200.88" width="51.4" height="28.42"/>
<rect x="3352.5" y="2219.83" width="51.4" height="9.47"/>
</g>
<g stroke="#b0b0b0" stroke-width="2" stroke-dasharray="7.7 3.3">
<line x1="220" y1="2039.8" x2="3555.6" y2="2039.8"/>
<line x1="220" y1="1850.3" x2="3555.6" y2="1850.3"/>
<line x1="220" y1="1660.9" x2="3555.6" y2="1660.9"/>
<line x1="220" y1="1471.4" x2="3555.6" y2="1471.4"/>
<line x1="220" y1="1281.9" x2="3555.6" y2="1281.9"/>
<line x1="706.4" y1="1254.3" x2="706.4" y2="2229.3"/>
<line x1="1220.2" y1="1254.3" x2="1220.2" y2="2229.3"/>
<line x1="1734" y1="1254.3" x2="1734" y2="2229.3"/>
<line x1="2247.8" y1="1254.3" x2="2247.8" y2="2229.3"/>
<line x1="2761.6" y1="1254.3" x2="2761.6" y2="2229.3"/>
<line x1="3275.4" y1="1254.3" x2="3275.4" y2="2229.3"/>
</g>
<g stroke-width="4.17" stroke-dasharray="15.4 6.7">
<line x1="499" y1="2229.3" x2="499" y2="1254.3" stroke="#ffc0cb"/>
<line x1="978.8" y1="2229.3" x2="978.8" y2="1254.3" stroke="#ee82ee"/>
<line x1="1367.6" y1="2229.3" x2="1367.6" y2="1254.3" stroke="#a52a2a"/>
<line x1="1785.4" y1="2229.3" x2="1785.4" y2="1254.3" stroke="#0000ff"/>
<line x1="1904.1" y1="2229.3" x2="1904.1" y2="1254.3" stroke="#ffa500"/>
<line x1="2224.7" y1="2229.3" x2="2224.7" y2="1254.3" stroke="#87ceeb"/>
<line x1="2338.7" y1="2229.3" x2="2338.7" y2="1254.3" stroke="#ff0000"/>
<line x1="2420.7" y1="2229.3" x2="2420.7" y2="1254.3" stroke="#808080"/>
<line x1="2698.5" y1="2229.3" x2="2698.5" y2="1254.3" stroke="#008000"/>
</g>
<rect x="220" y="1254.3" width="3335.6" height="975" fill="none" stroke="#000" stroke-width="3.33"/>
<g stroke="#000" stroke-width="3.33">
<line x1="706.4" y1="2229.3" x2="706.4" y2="2243.9"/>
<line x1="1220.2" y1="2229.3" x2="1220.2" y2="2243.9"/>
<line x1="1734" y1="2229.3" x2="1734" y2="2243.9"/>
<line x1="2247.8" y1="2229.3" x2="2247.8" y2="2243.9"/>
<line x1="2761.6" y1="2229.3" x2="2761.6" y2="2243.9"/>
<line x1="3275.4" y1="2229.3" x2="3275.4" y2="2243.9"/>
<line x1="205.4" y1="2229.3" x2="220" y2="2229.3"/>
<line x1="205.4" y1="2039.8" x2="220" y2="2039.8"/>
<line x1="205.4" y1="1850.3" x2="220" y2="1850.3"/>
<line x1="205.4" y1="1660.9" x2="220" y2="1660.9"/>
<line x1="205.4" y1="1471.4" x2="220" y2="1471.4"/>
<line x1="205.4" y1="1281.9" x2="220" y2="1281.9"/>
</g>
<g font-size="43" text-anchor="middle">
<text x="706.4" y="2293">125</text>
<text x="1220.2" y="2293">130</text>
<text x="1734" y="2293">135</text>
<text x="2247.8" y="2293">140</text>
<text x="2761.6" y="2293">145</text>
<text x="3275.4" y="2293">150</text>
</g>
<g font-size="43" text-anchor="end">
<text x="190.5" y="2244.8">0</text>
<text x="190.5" y="2055.3">20</text>
<text x="190.5" y="1865.8">40</text>
<text x="190.5" y="1676.4">60</text>
<text x="190.5" y="1486.9">80</text>
<text x="190.5" y="1297.4">100</text>
</g>
<text x="1887.6" y="2347" font-size="43" text-anchor="middle">経度</text>
<text transform="translate(88,1741.8) rotate(-90)" font-size="43" text-anchor="middle">頻度</text>
</svg>
</body></html>
